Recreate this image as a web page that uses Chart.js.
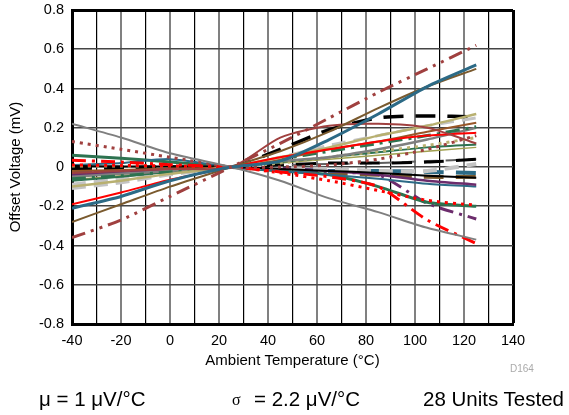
<!DOCTYPE html>
<html>
<head>
<meta charset="utf-8">
<script src="https://cdn.jsdelivr.net/npm/chart.js@4/dist/chart.umd.min.js"></script>
<style>
  body { margin: 0; background: #fff; font-family: "Liberation Sans", Arial, sans-serif; }
  #wrap { position: relative; width: 569px; height: 415px; }
  #plot { position: absolute; left: 0; top: 0; }
  .note { position: absolute; color: #000; font-size: 20.5px; line-height: 24px; white-space: nowrap; }
  .code { position: absolute; color: #aaa; font-size: 10px; }
  .sig { position: absolute; color: #000; font-family: "Liberation Serif", "DejaVu Serif", serif; font-size: 16px; line-height: 24px; }
</style>
</head>
<body>
<div id="wrap">
  <canvas id="plot" width="569" height="415"></canvas>
  <div class="code" style="left:510px; top:363px;">D164</div>
  <div class="note" style="left:39px; top:387px;">μ = 1 μV/°C</div>
  <div class="sig" style="left:232px; top:388px;">σ</div>
  <div class="note" style="left:254px; top:387px;">= 2.2 μV/°C</div>
  <div class="note" style="left:423px; top:387px;">28 Units Tested</div>
</div>
<script>
// temperature points (°C) shared by every unit
const temps = [-40, -20, 0, 25, 45, 65, 85, 105, 125];

// offset voltage (mV) per tested unit
const u1  = [-0.36, -0.27, -0.15, 0, 0.12, 0.25, 0.38, 0.50, 0.62];
const u2  = [-0.21, -0.15, -0.07, 0, 0.03, 0.14, 0.27, 0.41, 0.52];
const u3  = [-0.28, -0.19, -0.10, 0, 0.08, 0.18, 0.30, 0.41, 0.50];
const u4  = [0.22, 0.15, 0.07, 0, -0.07, -0.16, -0.23, -0.31, -0.37];
const u5  = [-0.03, -0.02, -0.01, 0, 0.15, 0.21, 0.22, 0.20, 0.12];
const u6  = [0.13, 0.09, 0.05, 0, 0, 0.01, 0.04, 0.09, 0.16];
const u7  = [-0.19, -0.13, -0.065, 0, 0.05, 0.09, 0.13, 0.16, 0.175];
const u8  = [0.035, 0.025, 0.012, 0, -0.025, -0.05, -0.10, -0.27, -0.39];
const u9  = [0.01, 0.008, 0.005, 0, -0.03, -0.07, -0.12, -0.17, -0.195];
const u10 = [-0.10, -0.07, -0.035, 0, 0.05, 0.10, 0.16, 0.21, 0.27];
const u11 = [-0.11, -0.08, -0.04, 0, 0.05, 0.11, 0.16, 0.21, 0.25];
const u12 = [-0.02, -0.015, -0.008, 0, 0.04, 0.09, 0.13, 0.18, 0.225];
const u13 = [-0.06, -0.045, -0.025, 0, 0.04, 0.08, 0.12, 0.16, 0.205];
const u14 = [-0.05, -0.035, -0.02, 0, 0.03, 0.05, 0.09, 0.14, 0.20];
const u15 = [0.005, 0.005, 0.005, 0, 0.02, 0.05, 0.08, 0.11, 0.15];
const u16 = [-0.07, -0.05, -0.025, 0, 0.025, 0.05, 0.075, 0.10, 0.115];
const u17 = [-0.01, -0.005, 0, 0, 0.09, 0.19, 0.25, 0.26, 0.255];
const u18 = [0, 0, 0, 0, 0.01, 0.02, 0.02, 0.025, 0.04];
const u19 = [0.005, 0.003, 0.002, 0, -0.01, -0.02, -0.03, -0.045, -0.055];
const u20 = [-0.09, -0.06, -0.03, 0, -0.005, -0.01, -0.02, -0.02, 0.015];
const u21 = [-0.04, -0.03, -0.015, 0, -0.005, -0.02, -0.04, -0.07, -0.09];
const u22 = [0.01, 0.02, 0.04, 0, -0.02, -0.04, -0.06, -0.085, -0.10];
const u23 = [-0.025, -0.02, -0.01, 0, -0.01, -0.02, -0.02, -0.025, -0.03];
const u24 = [-0.015, -0.01, -0.005, 0, -0.015, -0.03, -0.04, -0.05, -0.05];
const u25 = [0.06, 0.045, 0.025, 0, -0.02, -0.04, -0.10, -0.18, -0.20];
const u26 = [-0.04, -0.03, -0.015, 0, -0.01, -0.03, -0.04, -0.185, -0.265];
const u27 = [-0.065, -0.045, -0.02, 0, 0.02, 0.04, 0.06, 0.08, 0.10];
const u28 = [-0.03, -0.02, -0.01, 0, 0.01, 0.015, 0.02, 0.03, 0.04];

const units = [u1, u2, u3, u4, u5, u6, u7, u8, u9, u10, u11, u12, u13, u14,
               u15, u16, u17, u18, u19, u20, u21, u22, u23, u24, u25, u26, u27, u28];

// line styles
const RB = '#A0403F', BLUE = '#2C6A86', BROWN = '#7A5A2E', GRAY = '#7F7F7F',
      RED = '#FF0000', KHAKI = '#B8B070', LGRAY = '#C4C4C4', BROWN2 = '#985628',
      GREEN = '#2D7350', BLACK = '#000000', PURPLE = '#6C2C6C', OLIVE = '#A0A050';
const colors = [RB, BLUE, BROWN, GRAY, RB, RB, RED, RED, RED, KHAKI, LGRAY, BROWN2, GREEN, GRAY,
                KHAKI, GREEN, BLACK, BLACK, BLACK, LGRAY, PURPLE, BLUE, BLUE, BROWN, GREEN, PURPLE, OLIVE, '#606060'];
const widths = [3, 3, 2, 2, 2, 3, 2, 3, 3, 2.5, 3, 2, 3, 2.5,
                3, 2, 3.5, 3, 2, 4, 2.5, 2, 4, 4, 3, 3, 1.5, 2];
const DOT = [3, 5], DASH = [14, 8], LONG = [20, 12], DDOT = [14, 6, 3, 6, 3, 6], DDASH = [14, 6, 3, 6];
const dashes = [DDOT, [], [], [], [], DOT, [], DDASH, DOT, [], DASH, [], DDASH, [],
                DOT, [], LONG, LONG, [], DASH, [], [], LONG, LONG, [], DDASH, [], DASH];

const datasets = units.map((vals, i) => ({
  data: temps.map((t, k) => ({ x: t, y: vals[k] })),
  borderColor: colors[i],
  borderWidth: widths[i],
  borderDash: dashes[i],
  borderCapStyle: 'butt',
  pointRadius: 0,
  tension: 0.25,
  fill: false
}));

new Chart(document.getElementById('plot'), {
  type: 'line',
  data: { datasets: datasets },
  options: {
    responsive: false,
    animation: false,
    events: [],
    layout: { padding: { top: 10, right: 56, bottom: 45, left: 0 } },
    plugins: { legend: { display: false }, tooltip: { enabled: false } },
    scales: {
      x: {
        type: 'linear',
        min: -40, max: 140,
        afterFit: s => { s.height = 46; s.paddingLeft = 0; s.paddingRight = 0; },
        ticks: {
          stepSize: 10,
          padding: 8,
          maxRotation: 0,
          minRotation: 0,
          autoSkip: false,
          color: '#000',
          font: { family: '"Liberation Sans", Arial', size: 14.5 },
          callback: v => (v % 20 === 0 ? String(v) : '')
        },
        grid: {
          drawTicks: false,
          color: c => (c.tick.value === 140 ? '#000' : (c.tick.value % 20 === 0 ? '#808080' : '#000')),
          lineWidth: c => (c.tick.value === 140 ? 3 : (c.tick.value % 20 === 0 ? 2 : 1.2))
        },
        border: { color: '#000', width: 3 },
        title: {
          display: true,
          text: 'Ambient Temperature (°C)',
          color: '#000',
          padding: 0,
          font: { family: '"Liberation Sans", Arial', size: 15 }
        }
      },
      y: {
        min: -0.8, max: 0.8,
        afterFit: s => { s.width = 72; s.paddingTop = 0; s.paddingBottom = 0; },
        ticks: {
          stepSize: 0.2,
          padding: 8,
          color: '#000',
          font: { family: '"Liberation Sans", Arial', size: 14.5 },
          callback: v => (Math.abs(v) < 1e-9 ? '0' : v.toFixed(1))
        },
        grid: {
          drawTicks: false,
          color: c => (c.tick.value > 0.79 ? '#000' : '#444'),
          lineWidth: c => (c.tick.value > 0.79 ? 3 : 1.6)
        },
        border: { color: '#000', width: 3 },
        title: {
          display: true,
          text: 'Offset Voltage (mV)',
          color: '#000',
          padding: { top: 7, bottom: 0 },
          font: { family: '"Liberation Sans", Arial', size: 15 }
        }
      }
    }
  }
});
</script>
</body>
</html>
